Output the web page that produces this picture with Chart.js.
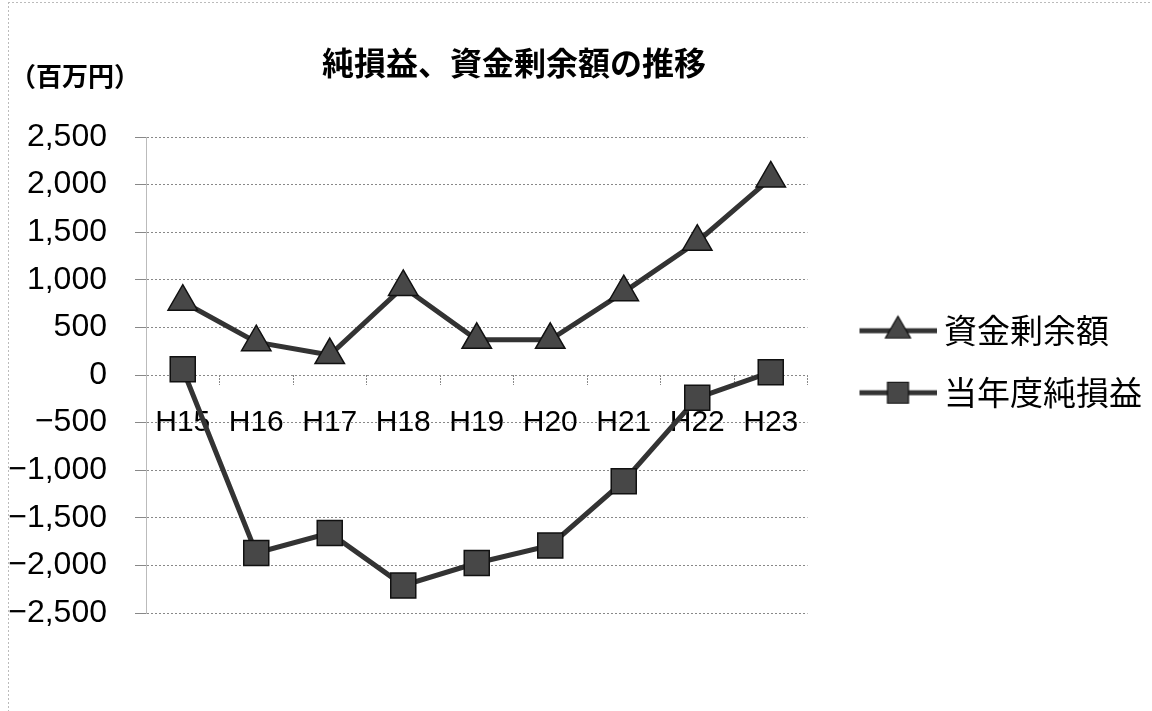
<!DOCTYPE html>
<html><head><meta charset="utf-8">
<script src="https://cdn.jsdelivr.net/npm/chart.js@4.4.1/dist/chart.umd.min.js"></script>
<style>html,body{margin:0;padding:0;background:#fff;overflow:hidden;}#wrap{width:1152px;height:711px;}</style>
</head><body><div id="wrap"><canvas id="c" width="1152" height="711"></canvas></div>
<script>
const categories = ['H15','H16','H17','H18','H19','H20','H21','H22','H23'];
const surplus = [770, 345, 210, 925, 370, 370, 870, 1400, 2065];
const netIncome = [60, -1870, -1660, -2210, -1975, -1790, -1115, -240, 30];
const seriesNames = ['資金剰余額', '当年度純損益'];
const yMin = -2500, yMax = 2500, yStep = 500;
const chartTitle = '純損益、資金剰余額の推移';
const unitLabel = '（百万円）';

const LINE = '#333333', FILL = '#474747', EDGE = '#111111';
const JP = '"Noto Sans CJK JP", "Noto Sans", sans-serif';
const NUM = '"Liberation Sans", Arial, sans-serif';

function makeSample(kind){
  const c = document.createElement('canvas');
  c.width = 109; c.height = 40;
  const g = c.getContext('2d');
  g.strokeStyle = LINE; g.lineWidth = 5;
  g.beginPath(); g.moveTo(32, 20); g.lineTo(109, 20); g.stroke();
  g.fillStyle = FILL; g.strokeStyle = EDGE; g.lineWidth = 1.2;
  const cx = 70.5, cy = 20;
  g.beginPath();
  if (kind === 'triangle'){
    const r = 14.5;
    g.moveTo(cx, cy - r);
    g.lineTo(cx + r*Math.sin(2*Math.PI/3), cy + r/2);
    g.lineTo(cx - r*Math.sin(2*Math.PI/3), cy + r/2);
    g.closePath();
  } else {
    const s = 10.5;
    g.rect(cx - s, cy - s, 2*s, 2*s);
  }
  g.fill(); g.stroke();
  return c;
}
const samples = [makeSample('triangle'), makeSample('rect')];

const fmt = v => {
  const s = Math.abs(v).toString().replace(/\B(?=(\d{3})+(?!\d))/g, ',');
  return v < 0 ? '\u2212' + s : s;
};

const textPlugin = {
  id: 'texts',
  afterDraw(chart){
    const ctx = chart.ctx;
    ctx.save();
    ctx.fillStyle = '#000';
    ctx.textBaseline = 'middle';
    ctx.textAlign = 'center';
    ctx.font = 'bold 32px ' + JP;
    ctx.fillText(chartTitle, 514, 63);
    ctx.textAlign = 'left';
    ctx.font = 'bold 26px ' + JP;
    ctx.fillText(unitLabel, 10, 76);
    ctx.restore();
  },
  beforeDraw(chart){
    const ctx = chart.ctx;
    ctx.save();
    ctx.strokeStyle = '#bbb'; ctx.lineWidth = 1; ctx.setLineDash([2,2]);
    ctx.beginPath(); ctx.moveTo(8.5, 2); ctx.lineTo(8.5, 711); ctx.moveTo(8, 2.5); ctx.lineTo(1152, 2.5); ctx.stroke();
    ctx.restore();
  }
};

new Chart(document.getElementById('c'), {
  type: 'line',
  data: {
    labels: categories,
    datasets: [
      { label: seriesNames[0], data: surplus, borderColor: LINE, borderWidth: 5,
        pointStyle: 'triangle', pointRadius: 17, pointHoverRadius: 17,
        pointBackgroundColor: FILL, pointBorderColor: EDGE, pointBorderWidth: 1.5, tension: 0 },
      { label: seriesNames[1], data: netIncome, borderColor: LINE, borderWidth: 5,
        pointStyle: 'rect', pointRadius: 17.7, pointHoverRadius: 17.7,
        pointBackgroundColor: FILL, pointBorderColor: EDGE, pointBorderWidth: 1.5, tension: 0 }
    ]
  },
  options: {
    responsive: false, animation: false, devicePixelRatio: 1,
    layout: { padding: { top: 137, bottom: 98, left: 0, right: 0 } },
    plugins: {
      title: { display: false },
      tooltip: { enabled: false },
      legend: {
        position: 'right', align: 'start', maxWidth: 347,
        title: { display: true, text: ' ', font: { size: 1 }, padding: { top: 147, bottom: 0 } },
        labels: {
          usePointStyle: true, pointStyleWidth: 91, padding: 29, color: '#000',
          font: { family: JP, size: 33 },
          generateLabels(chart){
            return Chart.defaults.plugins.legend.labels.generateLabels(chart).map((l, i) => Object.assign(l, { pointStyle: samples[i] }));
          }
        }
      }
    },
    scales: {
      x: {
        type: 'category', position: { y: 0 }, offset: true,
        grid: { offset: true, drawOnChartArea: false, drawTicks: true, tickLength: 10, color: '#888', tickBorderDash: [2, 1] },
        border: { display: false },
        ticks: { color: '#000', font: { family: NUM, size: 30 }, padding: 20, maxRotation: 0, autoSkip: false }
      },
      y: {
        min: yMin, max: yMax,
        afterFit(s){ s.width = 146; },
        grid: { color: '#888', lineWidth: 1, tickLength: 11 },
        border: { display: true, color: '#bbb', dash: [2, 2] },
        ticks: { stepSize: yStep, color: '#000', font: { family: NUM, size: 32 }, padding: 28, callback: v => fmt(v) }
      }
    }
  },
  plugins: [textPlugin]
});
</script></body></html>
